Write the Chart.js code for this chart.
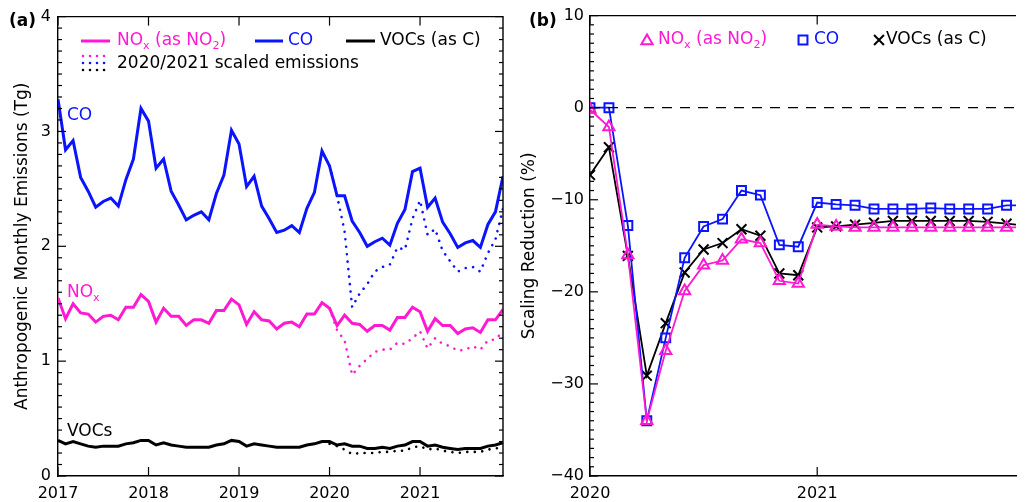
<!DOCTYPE html>
<html><head><meta charset="utf-8">
<script src="https://cdn.jsdelivr.net/npm/chart.js@4.4.1/dist/chart.umd.min.js"></script>
<style>
html,body{margin:0;padding:0;background:#fff;overflow:hidden;width:1025px;height:502px;}
#wrapA{position:absolute;left:0;top:0;width:512px;height:502px;}
#wrapB{position:absolute;left:512px;top:0;width:513px;height:502px;}
canvas{display:block;}
</style></head><body>
<div id="wrapA"><canvas id="cA" width="512" height="502"></canvas></div>
<div id="wrapB"><canvas id="cB" width="513" height="502"></canvas></div>
<script>
// ---------- DATA ----------
// Panel (a): monthly emissions Jan 2017 .. Dec 2021 (month index 0..59), Tg
const yearLabelsA = ['2017','2018','2019','2020','2021'];
const yearTicksA = [0, 12, 24, 36, 48];
const coMonthly = [
  3.28, 2.84, 2.92, 2.60, 2.48, 2.34, 2.39, 2.42, 2.35, 2.58, 2.76, 3.20,
  3.09, 2.68, 2.76, 2.48, 2.36, 2.23, 2.27, 2.30, 2.23, 2.46, 2.62, 3.01,
  2.89, 2.52, 2.61, 2.35, 2.24, 2.12, 2.14, 2.18, 2.12, 2.33, 2.47, 2.83,
  2.70, 2.44, 2.44, 2.22, 2.12, 2.00, 2.04, 2.07, 2.01, 2.20, 2.32, 2.65,
  2.68, 2.34, 2.42, 2.21, 2.11, 1.99, 2.03, 2.05, 1.99, 2.19, 2.30, 2.61];
const noxMonthly = [
  1.55, 1.37, 1.50, 1.42, 1.41, 1.34, 1.39, 1.40, 1.36, 1.47, 1.47, 1.58,
  1.52, 1.34, 1.46, 1.39, 1.39, 1.31, 1.36, 1.36, 1.33, 1.44, 1.44, 1.54,
  1.49, 1.32, 1.43, 1.36, 1.35, 1.28, 1.33, 1.34, 1.30, 1.41, 1.41, 1.51,
  1.46, 1.31, 1.40, 1.33, 1.32, 1.26, 1.31, 1.31, 1.27, 1.38, 1.38, 1.47,
  1.43, 1.26, 1.37, 1.31, 1.31, 1.24, 1.28, 1.29, 1.25, 1.36, 1.36, 1.45];
const vocMonthly = [
  0.31, 0.28, 0.30, 0.28, 0.26, 0.25, 0.26, 0.26, 0.26, 0.28, 0.29, 0.31,
  0.31, 0.27, 0.29, 0.27, 0.26, 0.25, 0.25, 0.25, 0.25, 0.27, 0.28, 0.31,
  0.30, 0.26, 0.28, 0.27, 0.26, 0.25, 0.25, 0.25, 0.25, 0.27, 0.28, 0.30,
  0.30, 0.27, 0.28, 0.26, 0.26, 0.24, 0.24, 0.25, 0.24, 0.26, 0.27, 0.30,
  0.30, 0.26, 0.27, 0.25, 0.24, 0.23, 0.24, 0.24, 0.24, 0.26, 0.27, 0.29];
// 2020/2021 scaled emissions (Jan 2020 .. Dec 2021)
const scaledStartMonth = 36;
const coScaled = [2.70, 2.44, 2.13, 1.47, 1.59, 1.67, 1.78, 1.82, 1.84, 1.99, 1.97, 2.24,
                  2.40, 2.10, 2.15, 1.96, 1.87, 1.78, 1.81, 1.82, 1.78, 1.94, 2.06, 2.33];
const noxScaled = [1.46, 1.27, 1.18, 0.88, 0.96, 1.02, 1.08, 1.10, 1.10, 1.16, 1.15, 1.20,
                   1.26, 1.11, 1.20, 1.15, 1.13, 1.09, 1.10, 1.13, 1.10, 1.18, 1.19, 1.26];
const vocScaled = [0.28, 0.26, 0.23, 0.19, 0.20, 0.20, 0.20, 0.21, 0.21, 0.22, 0.22, 0.25,
                   0.26, 0.23, 0.24, 0.22, 0.21, 0.20, 0.21, 0.21, 0.21, 0.23, 0.24, 0.25];

// Panel (b): scaling reduction (%), Jan 2020 .. Dec 2021 (month index 0..23)
const yearLabelsB = ['2020','2021'];
const yearTicksB = [0, 12];
const noxReduction = [-0.2, -2.1, -16.0, -34.0, -26.4, -19.9, -17.1, -16.6, -14.3, -14.7, -18.8, -19.1,
                      -12.7, -12.9, -13.0, -13.0, -13.0, -13.0, -13.0, -13.0, -13.0, -13.0, -13.0, -13.0];
const coReduction  = [0.0, 0.0, -12.8, -34.0, -25.0, -16.3, -12.9, -12.1, -9.0, -9.5, -14.9, -15.1,
                      -10.3, -10.5, -10.6, -11.0, -11.0, -11.0, -10.9, -11.0, -11.0, -11.0, -10.6, -10.6];
const vocReduction = [-7.3, -4.3, -16.1, -29.1, -23.4, -17.9, -15.4, -14.7, -13.2, -13.9, -18.0, -18.2,
                      -13.0, -12.9, -12.7, -12.5, -12.3, -12.3, -12.3, -12.3, -12.3, -12.4, -12.6, -12.8];
const zeroRef = [0, 0];
const zeroRefMonths = [0, 23];

// ---------- STYLE ----------
const MAG = '#ff1ad2', BLU = '#0a14ff', BLK = '#000000';
const FONT = 'DejaVu Sans';
Chart.defaults.font.family = FONT;
Chart.defaults.color = '#000';

const pts = (arr, start) => arr.map((v, i) => ({x: i + (start || 0), y: v}));

function drawRich(ctx, x, y, parts, size, color) {
  ctx.fillStyle = color;
  ctx.textBaseline = 'middle';
  ctx.textAlign = 'left';
  let cx = x;
  for (const p of parts) {
    if (p.sub) {
      ctx.font = `${Math.round(size * 0.62)}px "${FONT}"`;
      ctx.fillText(p.t, cx, y + size * 0.3);
    } else {
      ctx.font = `${size}px "${FONT}"`;
      ctx.fillText(p.t, cx, y);
    }
    cx += ctx.measureText(p.t).width;
  }
}
const noxLegendParts = [{t:'NO'},{t:'x',sub:true},{t:' (as NO'},{t:'2',sub:true},{t:')'}];

function seg(ctx, x1, y1, x2, y2) { ctx.beginPath(); ctx.moveTo(x1, y1); ctx.lineTo(x2, y2); ctx.stroke(); }

const deco = {
  id: 'deco',
  afterDraw(chart, args, o) {
    const {ctx, chartArea: a, scales: {x, y}} = chart;
    ctx.save();
    ctx.strokeStyle = '#000'; ctx.lineWidth = 1.4; ctx.setLineDash([]);
    // top (and right) border
    ctx.beginPath(); ctx.moveTo(a.left, a.top); ctx.lineTo(a.right, a.top);
    if (o.rightBorder) ctx.lineTo(a.right, a.bottom);
    ctx.stroke();
    // inward y ticks
    const n = Math.round((y.max - y.min) / o.yMinor);
    const per = Math.round(o.yMajor / o.yMinor);
    ctx.lineWidth = 1.2;
    for (let k = 0; k <= n; k++) {
      const v = y.min + k * o.yMinor;
      const p = y.getPixelForValue(v);
      const L = (k % per === 0) ? 8 : 4;
      seg(ctx, a.left, p, a.left + L, p);
      if (o.rightBorder) seg(ctx, a.right, p, a.right - L, p);
    }
    // inward x ticks
    for (const v of o.xTicks) {
      const p = x.getPixelForValue(v);
      seg(ctx, p, a.top, p, a.top + 9);
      seg(ctx, p, a.bottom, p, a.bottom - 9);
    }
    if (o.extra) o.extra(ctx, chart);
    ctx.restore();
  }
};

function axisY(min, max, step, title, titlePad, width, labelPad) {
  return {
    type: 'linear', min, max,
    grid: {display: false, drawTicks: false},
    border: {display: true, color: '#000', width: 1.4},
    ticks: {stepSize: step, padding: labelPad, font: {size: 16}, color: '#000',
            callback: v => (v < 0 ? '\u2212' + Math.abs(v) : String(v))},
    title: {display: true, text: title, font: {size: 17}, color: '#000', padding: {top: titlePad, bottom: 0}},
    afterFit: s => { s.width = width; }
  };
}
function axisX(min, max, tickVals, tickLabels) {
  return {
    type: 'linear', min, max,
    grid: {display: false, drawTicks: false},
    border: {display: true, color: '#000', width: 1.4},
    ticks: {autoSkip: false, maxRotation: 0, padding: 8, font: {size: 16}, color: '#000',
            callback: v => { const i = tickVals.indexOf(v); return i >= 0 ? tickLabels[i] : ''; }},
    afterBuildTicks: s => { s.ticks = tickVals.map(v => ({value: v})); },
    afterFit: s => { s.height = 26; }
  };
}

// ---------- PANEL (a) ----------
const lineA = (data, color, start) => ({data: pts(data, start), borderColor: color, borderWidth: 3,
  pointRadius: 0, tension: 0, fill: false});
const dotA = (data, color) => ({data: pts(data, scaledStartMonth), borderColor: color, borderWidth: 2.6,
  borderDash: [0.01, 7.5], borderCapStyle: 'round', pointRadius: 0, tension: 0, fill: false});

new Chart(document.getElementById('cA'), {
  type: 'line',
  data: {datasets: [
    {label: 'CO', ...lineA(coMonthly, BLU)},
    {label: 'NOx (as NO2)', ...lineA(noxMonthly, MAG)},
    {label: 'VOCs (as C)', ...lineA(vocMonthly, BLK)},
    {label: 'CO scaled', ...dotA(coScaled, BLU)},
    {label: 'NOx scaled', ...dotA(noxScaled, MAG)},
    {label: 'VOCs scaled', ...dotA(vocScaled, BLK)}
  ]},
  options: {
    responsive: false, animation: false, devicePixelRatio: 1,
    layout: {padding: {top: 14, right: 9, left: 0, bottom: 0}},
    plugins: {legend: {display: false}, tooltip: {enabled: false},
      deco: {yMinor: 0.1, yMajor: 1, rightBorder: true, xTicks: yearTicksA,
        extra: (ctx) => {
          // panel letter
          ctx.fillStyle = '#000'; ctx.textBaseline = 'middle'; ctx.textAlign = 'left';
          ctx.font = `bold 17px "${FONT}"`; ctx.fillText('(a)', 9, 22);
          // legend row 1
          ctx.setLineDash([]); ctx.lineWidth = 3;
          ctx.strokeStyle = MAG; seg(ctx, 81, 41, 110, 41);
          drawRich(ctx, 117, 41, noxLegendParts, 17, MAG);
          ctx.strokeStyle = BLU; seg(ctx, 255, 41, 283, 41);
          drawRich(ctx, 288, 41, [{t:'CO'}], 17, BLU);
          ctx.strokeStyle = BLK; seg(ctx, 346, 41, 375, 41);
          drawRich(ctx, 380, 41, [{t:'VOCs (as C)'}], 17, BLK);
          // legend row 2 (dotted samples)
          ctx.lineWidth = 2.6; ctx.lineCap = 'round'; ctx.setLineDash([0.01, 7]);
          ctx.strokeStyle = MAG; seg(ctx, 83, 56, 109, 56);
          ctx.strokeStyle = BLU; seg(ctx, 83, 63, 109, 63);
          ctx.strokeStyle = BLK; seg(ctx, 83, 70, 109, 70);
          ctx.setLineDash([]);
          drawRich(ctx, 117, 64, [{t:'2020/2021 scaled emissions'}], 17, BLK);
          // inline series labels
          drawRich(ctx, 67, 116, [{t:'CO'}], 17, BLU);
          drawRich(ctx, 67, 293, [{t:'NO'},{t:'x',sub:true}], 17, MAG);
          drawRich(ctx, 67, 432, [{t:'VOCs'}], 17, BLK);
        }}},
    scales: {
      x: axisX(0, 59, yearTicksA, yearLabelsA),
      y: axisY(0, 4, 1, 'Anthropogenic Monthly Emissions (Tg)', 12, 58, 7)
    }
  },
  plugins: [deco]
});

// ---------- PANEL (b) ----------
const lineB = (data, color, style, radius) => ({data: pts(data), borderColor: color, borderWidth: 1.8,
  pointStyle: style, pointRadius: radius, pointBorderWidth: 2, pointBorderColor: color,
  pointBackgroundColor: 'rgba(255,255,255,0)', tension: 0, fill: false});

new Chart(document.getElementById('cB'), {
  type: 'line',
  data: {datasets: [
    {label: 'zero', data: zeroRefMonths.map((m, i) => ({x: m, y: zeroRef[i]})), borderColor: '#000',
     borderWidth: 1.3, borderDash: [10, 8], pointRadius: 0, fill: false},
    {label: 'NOx (as NO2)', ...lineB(noxReduction, MAG, 'triangle', 6.5)},
    {label: 'CO', ...lineB(coReduction, BLU, 'rect', 6.3)},
    {label: 'VOCs (as C)', ...lineB(vocReduction, BLK, 'crossRot', 7)}
  ]},
  options: {
    responsive: false, animation: false, devicePixelRatio: 1,
    layout: {padding: {top: 14, right: 0, left: 0, bottom: 0}},
    plugins: {legend: {display: false}, tooltip: {enabled: false},
      deco: {yMinor: 1, yMajor: 10, rightBorder: false, xTicks: yearTicksB,
        extra: (ctx) => {
          ctx.fillStyle = '#000'; ctx.textBaseline = 'middle'; ctx.textAlign = 'left';
          ctx.font = `bold 17px "${FONT}"`; ctx.fillText('(b)', 17, 22);
          ctx.setLineDash([]); ctx.lineWidth = 2;
          ctx.fillStyle = 'rgba(255,255,255,0)';
          ctx.strokeStyle = MAG;
          Chart.helpers.drawPoint(ctx, {pointStyle: 'triangle', radius: 6.5, rotation: 0, borderWidth: 2}, 135, 41);
          drawRich(ctx, 146, 40, noxLegendParts, 17, MAG);
          ctx.fillStyle = 'rgba(255,255,255,0)';
          ctx.strokeStyle = BLU;
          Chart.helpers.drawPoint(ctx, {pointStyle: 'rect', radius: 6.3, rotation: 0, borderWidth: 2}, 291, 40);
          drawRich(ctx, 302, 40, [{t:'CO'}], 17, BLU);
          ctx.fillStyle = 'rgba(255,255,255,0)';
          ctx.strokeStyle = BLK;
          Chart.helpers.drawPoint(ctx, {pointStyle: 'crossRot', radius: 7, rotation: 0, borderWidth: 2}, 367, 40);
          drawRich(ctx, 374, 40, [{t:'VOCs (as C)'}], 17, BLK);
        }}},
    scales: {
      x: axisX(0, 22.5, yearTicksB, yearLabelsB),
      y: axisY(-40, 10, 10, 'Scaling Reduction (%)', 7, 78, 6)
    }
  },
  plugins: [deco]
});
</script>
</body></html>
